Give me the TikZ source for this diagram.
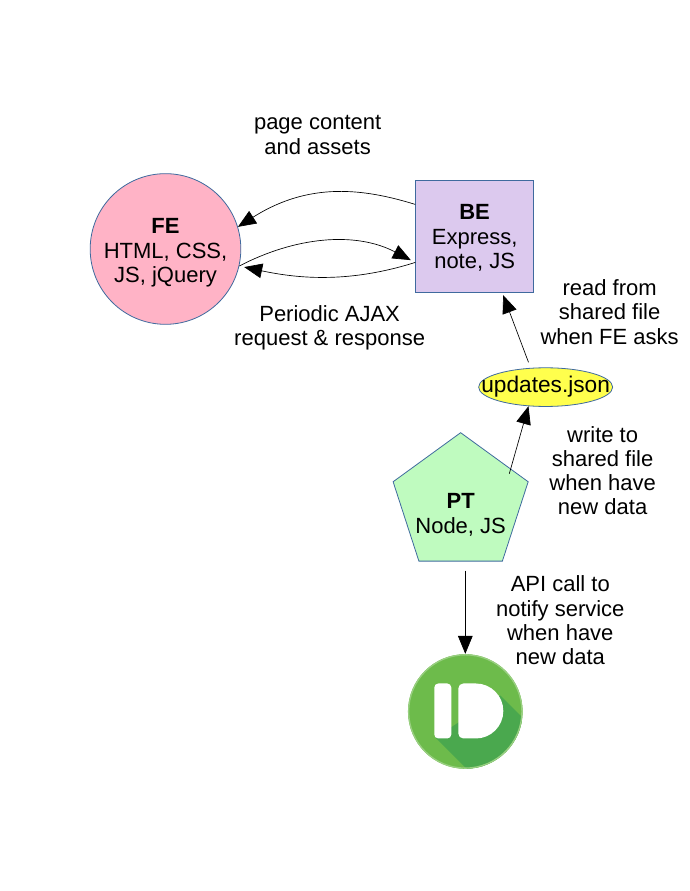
\documentclass[tikz,border=0pt]{standalone}
\usepackage{fontspec}
\setmainfont{Liberation Sans}
\usetikzlibrary{arrows.meta,positioning,calc,shapes.geometric}
\definecolor{edgeblue}{HTML}{3F6A9E}
\definecolor{logolight}{HTML}{6DBB4B}
\definecolor{logodark}{HTML}{4AA84E}
\definecolor{fepink}{HTML}{FFB3C6}
\definecolor{belilac}{HTML}{DCC9EE}
\definecolor{fileyellow}{HTML}{FFFF4D}
\definecolor{ptgreen}{HTML}{BFFBBF}
\tikzset{
  blk/.style={draw=edgeblue,line width=0.6pt,inner sep=0pt,align=center,font=\fontsize{16.5}{18.4}\selectfont},
  feblk/.style={blk,circle,minimum size=113pt,fill=fepink},
  beblk/.style={blk,rectangle,minimum width=88.5pt,minimum height=84pt,fill=belilac},
  fileblk/.style={blk,ellipse,minimum width=100.5pt,minimum height=29pt,fill=fileyellow},
  ptblk/.style={blk,regular polygon,regular polygon sides=5,minimum size=106.5pt,fill=ptgreen},
  logoblk/.style={circle,minimum size=86pt,inner sep=0pt,fill=logolight},
  arr/.style={-{Triangle[length=13.5pt,width=11pt]},line width=0.5pt},
  lbl/.style={align=center,font=\fontsize{16.5}{18.2}\selectfont}
}

\begin{document}
\begin{tikzpicture}[x=0.75pt,y=0.75pt]
  \useasboundingbox (0,0) rectangle (689,891);
  \node[feblk] (fe) at (165.5,642) {\rule{0pt}{17pt}\textbf{FE}\\HTML, CSS,\\JS, jQuery};
  \node[beblk, right=130.5pt of fe, yshift=9.75pt] (be) {\rule{0pt}{14.8pt}\textbf{BE}\\Express,\\note, JS};
  \node[fileblk, below=56.25pt of be, xshift=53.25pt] (updates) {\makebox[0pt]{\fontsize{17}{18}\selectfont updates.json}};
  \node[ptblk, below=19pt of updates, xshift=-63.75pt] (pt) {};
  \node[blk, draw=none, at={([yshift=-8.25pt]pt.center)}] (pttext) {\textbf{PT}\\Node, JS};
  \node[logoblk, below=69.25pt of pt, xshift=3.5pt] (logo) {};

  \begin{scope}[shift={(logo.center)}]
    \clip (0,0) circle (57.3);
    \fill[logodark] (35,16) -- (70,-19) -- (70,-70) -- (10,-66) -- (-30,-26) -- cycle;
    \draw[logolight!70!white,line width=1.5pt] (0,0) circle (57);
    \fill[white,rounded corners=3pt] (-31,-27) rectangle (-14,28);
    \fill[white] (-7,23) arc (180:90:5) -- (10.5,28) arc (90:-90:27.5) -- (-2,-27) arc (270:180:5) -- cycle;
  \end{scope}

  \node[lbl] (contentlbl) at ([shift={(-157,101)}]be.center) {page content\\and assets};
  \node[lbl] (ajaxlbl) at ([shift={(-145,-91.5)}]be.center) {Periodic AJAX\\request \& response};
  \node[lbl] (readlbl) at ([shift={(135,-76)}]be.center) {read from\\shared file\\when FE asks};
  \node[lbl] (writelbl) at ([shift={(142,33)}]pt.center) {write to\\shared file\\when have\\new data};
  \node[lbl] (notifylbl) at ([shift={(95,91)}]logo.center) {API call to\\notify service\\when have\\new data};

  \draw[arr] (be.152) .. controls (365,702) and (310,710) .. (fe.17);
  \draw[arr,shorten >=3.75pt] (fe.-13) .. controls (295,654) and (355,660) .. (be.204);
  \draw[arr,shorten >=3.75pt] (be.204) .. controls (350,608) and (300,612) .. (fe.-13);
  \draw[arr,shorten <=4.5pt,shorten >=2.25pt] (updates.128) -- (be.-64);
  \draw[arr,shorten <=-4pt] (pt.35) -- (updates.228);
  \draw[arr,shorten <=6.75pt] (logo.north |- pt.south) -- (logo.north);
\end{tikzpicture}
\end{document}
